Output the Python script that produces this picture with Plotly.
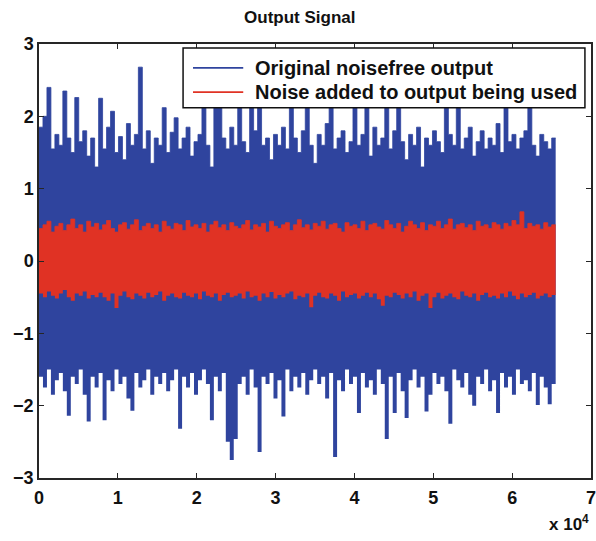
import numpy as np
import plotly.graph_objects as go

# ---- data (one column per 504 samples) ----
STEP = 504
blue_upper = [1.85, 2.0, 2.4, 1.55, 1.75, 1.6, 2.35, 1.7, 1.5, 2.26,
              1.65, 1.8, 1.45, 1.7, 1.3, 2.25, 1.55, 1.85, 2.07, 1.5,
              1.72, 1.4, 1.9, 1.6, 1.75, 2.68, 1.55, 1.8, 1.35, 1.7,
              1.6, 2.12, 1.5, 1.78, 1.98, 1.55, 1.7, 1.85, 1.45, 1.65,
              1.75, 2.2, 1.6, 1.3, 2.15, 2.2, 1.7, 1.55, 1.85, 1.6,
              2.2, 1.65, 1.5, 2.15, 1.8, 2.2, 1.6, 1.7, 1.4, 1.75,
              1.6, 1.85, 1.55, 2.2, 1.7, 1.5, 1.8, 2.2, 1.6, 1.35,
              1.75, 1.6, 1.9, 2.2, 1.55, 1.7, 1.8, 1.5, 1.65, 2.2,
              1.6, 1.75, 2.2, 1.45, 1.85, 1.6, 1.7, 2.2, 1.55, 1.8,
              2.2, 1.65, 1.4, 1.75, 1.6, 1.85, 1.3, 1.7, 1.6, 1.8,
              1.65, 1.5, 2.2, 1.75, 1.6, 2.2, 1.55, 1.7, 1.85, 1.45,
              1.65, 1.8, 1.55, 1.7, 1.6, 1.9, 1.5, 2.2, 1.65, 1.75,
              1.55, 1.7, 1.8, 2.15, 1.6, 1.45, 1.75, 1.65, 1.55, 1.7]
blue_lower = [-1.6, -1.75, -1.5, -1.85, -1.65, -1.55, -1.8, -2.14, -1.6, -1.7,
              -1.5, -1.85, -2.22, -1.6, -1.75, -1.55, -2.2, -1.65, -1.8, -1.5,
              -1.7, -1.6, -1.9, -2.07, -1.55, -1.75, -1.65, -1.5, -1.85, -1.6,
              -1.7, -1.55, -1.8, -1.65, -1.5, -2.32, -1.6, -1.75, -1.55, -1.85,
              -1.65, -1.5, -1.7, -2.2, -1.6, -1.8, -1.55, -2.5, -2.75, -2.46,
              -1.7, -1.6, -1.85, -1.5, -1.75, -2.64, -1.6, -1.7, -1.55, -1.9,
              -1.65, -2.15, -1.5, -1.8, -1.6, -1.75, -1.55, -1.85, -1.65, -1.5,
              -1.7, -1.6, -1.9, -1.55, -2.71, -1.65, -1.8, -1.5, -1.7, -1.6,
              -2.1, -1.55, -1.75, -1.65, -1.85, -1.5, -1.7, -2.46, -1.6, -2.1,
              -1.55, -1.8, -2.17, -1.65, -1.5, -1.75, -1.6, -2.08, -1.85, -1.55,
              -1.7, -1.6, -1.8, -2.25, -1.5, -1.65, -1.75, -1.55, -1.85, -2.0,
              -1.6, -1.7, -1.5, -1.8, -1.65, -2.1, -1.55, -1.75, -1.6, -1.85,
              -1.5, -1.7, -1.65, -1.8, -1.55, -1.99, -1.6, -1.75, -1.98, -1.7]
red_upper = [0.45, 0.5, 0.55, 0.4, 0.48, 0.52, 0.42, 0.5, 0.58, 0.45,
             0.5, 0.4, 0.55, 0.47, 0.52, 0.43, 0.5, 0.56, 0.45, 0.4,
             0.5, 0.53, 0.44, 0.5, 0.57, 0.42, 0.48, 0.52, 0.45, 0.5,
             0.4, 0.55, 0.48, 0.44, 0.52, 0.5, 0.42, 0.56, 0.47, 0.5,
             0.45, 0.52, 0.4, 0.5, 0.55, 0.46, 0.5, 0.42, 0.53, 0.48,
             0.45, 0.5, 0.56, 0.43, 0.5, 0.47, 0.52, 0.4, 0.55, 0.48,
             0.45, 0.5, 0.53, 0.42, 0.5, 0.57, 0.46, 0.5, 0.43, 0.52,
             0.48, 0.55, 0.44, 0.5, 0.52, 0.45, 0.4, 0.53, 0.48, 0.5,
             0.45, 0.55, 0.42, 0.5, 0.52, 0.47, 0.44, 0.56, 0.5, 0.45,
             0.52, 0.4, 0.48, 0.55, 0.5, 0.45, 0.53, 0.42, 0.5, 0.48,
             0.55, 0.45, 0.5, 0.58, 0.44, 0.5, 0.52, 0.46, 0.5, 0.42,
             0.55, 0.48, 0.5, 0.45, 0.53, 0.5, 0.44, 0.52, 0.48, 0.56,
             0.5, 0.68, 0.45, 0.52, 0.48, 0.5, 0.44, 0.53, 0.47, 0.5]
red_lower = [-0.45, -0.5, -0.42, -0.48, -0.52, -0.45, -0.4, -0.5, -0.55, -0.45,
             -0.48, -0.42, -0.52, -0.47, -0.5, -0.44, -0.5, -0.55, -0.45, -0.65,
             -0.48, -0.42, -0.5, -0.53, -0.45, -0.48, -0.52, -0.44, -0.5, -0.47,
             -0.42, -0.55, -0.48, -0.45, -0.5, -0.52, -0.44, -0.48, -0.5, -0.45,
             -0.53, -0.42, -0.48, -0.5, -0.45, -0.55, -0.47, -0.44, -0.5, -0.48,
             -0.45, -0.52, -0.42, -0.5, -0.48, -0.55, -0.45, -0.5, -0.43, -0.52,
             -0.47, -0.5, -0.45, -0.42, -0.53, -0.48, -0.5, -0.45, -0.64, -0.48,
             -0.44, -0.5, -0.52, -0.45, -0.48, -0.55, -0.42, -0.5, -0.47, -0.45,
             -0.52, -0.48, -0.44, -0.5, -0.45, -0.53, -0.62, -0.48, -0.5, -0.44,
             -0.47, -0.52, -0.45, -0.5, -0.42, -0.55, -0.48, -0.45, -0.65, -0.5,
             -0.44, -0.52, -0.48, -0.45, -0.5, -0.53, -0.42, -0.48, -0.5, -0.45,
             -0.55, -0.47, -0.44, -0.5, -0.48, -0.52, -0.45, -0.5, -0.42, -0.48,
             -0.53, -0.45, -0.5, -0.47, -0.44, -0.52, -0.48, -0.45, -0.5, -0.47]
x_tickvals = [0, 10000, 20000, 30000, 40000, 50000, 60000, 70000]
x_ticktext = ["0", "1", "2", "3", "4", "5", "6", "7"]
y_tickvals = [-3, -2, -1, 0, 1, 2, 3]
legend_names = ["Original noisefree output", "Noise added to output being used"]

BLUE = "#2f449e"
RED = "#e03224"
FONT = "Liberation Sans, Arial, sans-serif"
AX = "#262626"
TXT = "#111111"

n = len(blue_upper)
x_edges = np.arange(n + 1) * STEP  # column edges (sample index)


def band(lower, upper, color):
    lo = list(lower) + [lower[-1]]
    hi = list(upper) + [upper[-1]]
    fig.add_trace(go.Scatter(x=x_edges, y=lo, mode="lines", line=dict(width=0, shape="hv"),
                             showlegend=False, hoverinfo="skip"))
    fig.add_trace(go.Scatter(x=x_edges, y=hi, mode="lines", line=dict(width=0.8, color=color, shape="hv"),
                             fill="tonexty", fillcolor=color, showlegend=False, hoverinfo="skip"))


fig = go.Figure()
band(blue_lower, blue_upper, BLUE)
band(red_lower, red_upper, RED)

axis_common = dict(showline=True, linecolor=AX, linewidth=1.5, mirror="ticks",
                   ticks="inside", ticklen=5, tickwidth=1.2, tickcolor=AX,
                   showgrid=False, zeroline=False, automargin=False,
                   ticklabeloverflow="allow",
                   tickfont=dict(family=FONT, size=18, color=TXT, weight="bold"))
fig.update_xaxes(range=[0, 70000], tickvals=x_tickvals, ticktext=x_ticktext,
                 ticklabelstandoff=3, **axis_common)
fig.update_yaxes(range=[-3, 3], tickvals=y_tickvals, **axis_common)

# manual legend (MATLAB style)
fig.add_shape(type="rect", xref="paper", yref="paper", x0=0.261, x1=0.989, y0=0.853, y1=0.991,
              line=dict(color=TXT, width=1.5), fillcolor="white", layer="above")
for i, (name, col) in enumerate(zip(legend_names, [BLUE, RED])):
    yy = 0.945 - i * 0.056
    fig.add_shape(type="line", xref="paper", yref="paper", x0=0.279, x1=0.370, y0=yy, y1=yy,
                  line=dict(color=col, width=1.6), layer="above")
    fig.add_annotation(xref="paper", yref="paper", x=0.388, y=yy, text=name, showarrow=False,
                       xanchor="left", yanchor="middle",
                       font=dict(family=FONT, size=20, color=TXT, weight="bold"))

fig.add_annotation(xref="paper", yref="paper", x=1.0, y=-0.104, text="x 10<sup>4</sup>",
                   showarrow=False, xanchor="right", yanchor="middle",
                   font=dict(family=FONT, size=17, color=TXT, weight="bold"))

fig.update_layout(
    width=596, height=541,
    margin=dict(l=39, r=5, t=44, b=63),
    paper_bgcolor="white", plot_bgcolor="white",
    title=dict(text="Output Signal", x=0.503, xanchor="center", y=0.968, yanchor="middle",
               font=dict(family=FONT, size=17, color=TXT, weight="bold")),
)

fig.write_html("out.html")
